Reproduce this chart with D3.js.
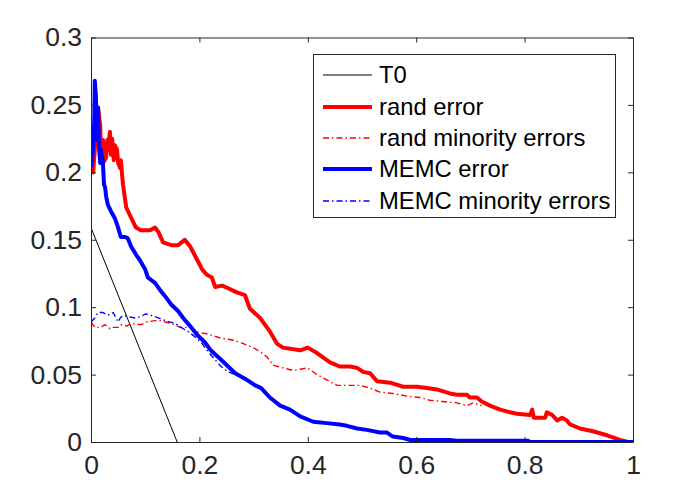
<!DOCTYPE html>
<html><head><meta charset="utf-8">
<script src="https://cdn.jsdelivr.net/npm/d3@7"></script>
<style>html,body{margin:0;padding:0;background:#fff}svg{display:block}</style>
</head><body>
<svg id="chart" width="700" height="498"></svg>
<script>
const xTicks = [0, 0.2, 0.4, 0.6, 0.8, 1];
const yTicks = [0, 0.05, 0.1, 0.15, 0.2, 0.25, 0.3];
const xTickLabels = ["0", "0.2", "0.4", "0.6", "0.8", "1"];
const yTickLabels = ["0", "0.05", "0.1", "0.15", "0.2", "0.25", "0.3"];
const seriesNames = ["T0", "rand error", "rand minority errors", "MEMC error", "MEMC minority errors"];

const t0X = [0, 0.159];
const t0Y = [0.159, 0];

const randErrX = [0,0.004,0.007,0.011,0.013,0.017,0.018,0.022,0.024,0.028,0.030,0.031,0.035,0.037,0.039,0.042,0.044,0.048,0.050,0.054,0.055,0.059,0.065,0.072,0.083,0.092,0.109,0.118,0.124,0.133,0.148,0.161,0.173,0.183,0.196,0.205,0.214,0.223,0.229,0.242,0.253,0.269,0.284,0.293,0.312,0.330,0.343,0.354,0.386,0.400,0.417,0.441,0.459,0.478,0.491,0.502,0.515,0.528,0.552,0.576,0.601,0.620,0.638,0.662,0.675,0.694,0.699,0.712,0.721,0.736,0.755,0.773,0.786,0.810,0.814,0.817,0.838,0.841,0.851,0.860,0.869,0.878,0.884,0.902,0.926,0.952,0.976,0.991,1.0];
const randErrY = [0.202,0.200,0.217,0.246,0.248,0.235,0.217,0.224,0.208,0.211,0.224,0.217,0.230,0.213,0.225,0.209,0.220,0.217,0.207,0.203,0.209,0.191,0.174,0.168,0.159,0.157,0.157,0.159,0.156,0.148,0.146,0.146,0.150,0.145,0.135,0.128,0.124,0.122,0.115,0.116,0.114,0.111,0.109,0.099,0.092,0.082,0.073,0.070,0.068,0.070,0.066,0.059,0.056,0.056,0.055,0.052,0.051,0.045,0.044,0.041,0.041,0.040,0.039,0.036,0.035,0.035,0.033,0.033,0.030,0.027,0.024,0.022,0.021,0.020,0.024,0.018,0.018,0.022,0.020,0.016,0.018,0.016,0.013,0.010,0.008,0.005,0.0015,0,0];

const randMinX = [0,0.007,0.017,0.026,0.035,0.041,0.050,0.055,0.066,0.074,0.092,0.103,0.118,0.127,0.137,0.146,0.155,0.164,0.173,0.183,0.192,0.203,0.216,0.240,0.256,0.275,0.299,0.312,0.325,0.336,0.354,0.373,0.386,0.399,0.417,0.435,0.454,0.478,0.496,0.515,0.533,0.557,0.583,0.607,0.625,0.649,0.675,0.694,0.705,0.721];
const randMinY = [0.089,0.085,0.085,0.087,0.084,0.085,0.085,0.087,0.086,0.088,0.087,0.089,0.090,0.090,0.089,0.088,0.087,0.085,0.085,0.085,0.082,0.081,0.080,0.077,0.076,0.074,0.070,0.067,0.063,0.057,0.055,0.053,0.054,0.055,0.050,0.046,0.042,0.042,0.042,0.040,0.037,0.036,0.034,0.033,0.031,0.030,0.029,0.027,0.029,0.027];

const memcErrX = [0,0.004,0.006,0.007,0.009,0.011,0.013,0.015,0.017,0.018,0.022,0.024,0.026,0.028,0.031,0.037,0.044,0.050,0.055,0.063,0.068,0.074,0.083,0.090,0.100,0.105,0.118,0.127,0.137,0.148,0.161,0.170,0.185,0.197,0.210,0.221,0.240,0.253,0.266,0.284,0.303,0.314,0.330,0.349,0.367,0.386,0.410,0.435,0.459,0.472,0.491,0.509,0.533,0.546,0.557,0.576,0.589,0.662,0.675,0.806,0.810,1.0];
const memcErrY = [0.204,0.217,0.239,0.268,0.257,0.224,0.248,0.217,0.207,0.217,0.207,0.191,0.189,0.182,0.176,0.171,0.166,0.159,0.152,0.152,0.151,0.145,0.139,0.135,0.128,0.122,0.118,0.113,0.108,0.102,0.097,0.092,0.085,0.079,0.074,0.068,0.061,0.056,0.051,0.047,0.042,0.040,0.033,0.027,0.024,0.019,0.015,0.014,0.013,0.012,0.010,0.009,0.007,0.007,0.004,0.003,0.0015,0.0015,0.001,0.001,0,0];

const memcMinX = [0,0.007,0.013,0.022,0.031,0.041,0.046,0.050,0.054,0.059,0.068,0.081,0.092,0.101,0.118,0.137,0.155,0.166,0.179,0.192,0.203,0.216,0.229,0.240,0.253,0.266,0.284,0.303];
const memcMinY = [0.089,0.092,0.096,0.096,0.094,0.096,0.092,0.089,0.092,0.094,0.093,0.092,0.093,0.095,0.093,0.090,0.088,0.085,0.082,0.078,0.074,0.067,0.061,0.056,0.052,0.050,0.046,0.042];

const axisColor = "#262626";
const font = "'Liberation Sans', Arial, Helvetica, sans-serif";
const svg = d3.select("#chart");
const L = 91, R = 633, T = 37.5, B = 442;
const x = d3.scaleLinear().domain([0, 1]).range([L, R]);
const y = d3.scaleLinear().domain([0, 0.3]).range([B, T]);

const zip = (xs, ys) => xs.map((v, i) => [v, ys[i]]);
const line = d3.line().x(d => x(d[0])).y(d => y(d[1]));

const styles = [
  {name: seriesNames[0], data: zip(t0X, t0Y), color: "#000000", w: 1, dash: null},
  {name: seriesNames[1], data: zip(randErrX, randErrY), color: "#ff0000", w: 4, dash: null},
  {name: seriesNames[2], data: zip(randMinX, randMinY), color: "#ff0000", w: 1.4, dash: "6,3,1.5,3"},
  {name: seriesNames[3], data: zip(memcErrX, memcErrY), color: "#0000ff", w: 4, dash: null},
  {name: seriesNames[4], data: zip(memcMinX, memcMinY), color: "#0000ff", w: 1.4, dash: "6,3,1.5,3"}
];

svg.append("defs").append("clipPath").attr("id", "clip")
  .append("rect").attr("x", L).attr("y", T).attr("width", R - L).attr("height", B - T);

const plot = svg.append("g").attr("clip-path", "url(#clip)");
styles.forEach(s => {
  plot.append("path").datum(s.data)
    .attr("d", line).attr("fill", "none")
    .attr("stroke", s.color).attr("stroke-width", s.w)
    .attr("stroke-linejoin", "round")
    .attr("stroke-dasharray", s.dash);
});

// axes
const tickLen = 5;
const axB = d3.axisBottom(x).tickValues(xTicks).tickFormat((d, i) => xTickLabels[i]).tickSizeInner(-tickLen).tickSizeOuter(0).tickPadding(13);
const axT = d3.axisTop(x).tickValues(xTicks).tickFormat("").tickSizeInner(-tickLen).tickSizeOuter(0);
const axLft = d3.axisLeft(y).tickValues(yTicks).tickFormat((d, i) => yTickLabels[i]).tickSizeInner(-tickLen).tickSizeOuter(0).tickPadding(9);
const axRt = d3.axisRight(y).tickValues(yTicks).tickFormat("").tickSizeInner(-tickLen).tickSizeOuter(0);

function styleAxis(g) {
  g.selectAll("path").attr("stroke", axisColor).attr("stroke-width", 1);
  g.selectAll("line").attr("stroke", axisColor).attr("stroke-width", 1);
  g.selectAll("text").attr("fill", axisColor).style("font-family", font).style("font-size", "26.5px");
}
svg.append("g").attr("transform", `translate(0,${B})`).call(axB).call(styleAxis);
svg.append("g").attr("transform", `translate(0,${T})`).call(axT).call(styleAxis);
svg.append("g").attr("transform", `translate(${L},0)`).call(axLft).call(styleAxis);
svg.append("g").attr("transform", `translate(${R},0)`).call(axRt).call(styleAxis);

// legend
const lg = svg.append("g");
lg.append("rect").attr("x", 313.5).attr("y", 54.5).attr("width", 302).attr("height", 163)
  .attr("fill", "#fff").attr("stroke", axisColor).attr("stroke-width", 1);
const rowY = [75, 107, 138, 169, 201];
styles.forEach((s, i) => {
  lg.append("line").attr("x1", 323).attr("x2", 372).attr("y1", rowY[i]).attr("y2", rowY[i])
    .attr("stroke", s.color).attr("stroke-width", s.w).attr("stroke-dasharray", s.dash);
  lg.append("text").attr("x", 379).attr("y", rowY[i] + 8)
    .attr("fill", "#000").style("font-family", font).style("font-size", "23.8px").text(s.name);
});
</script>
</body></html>
